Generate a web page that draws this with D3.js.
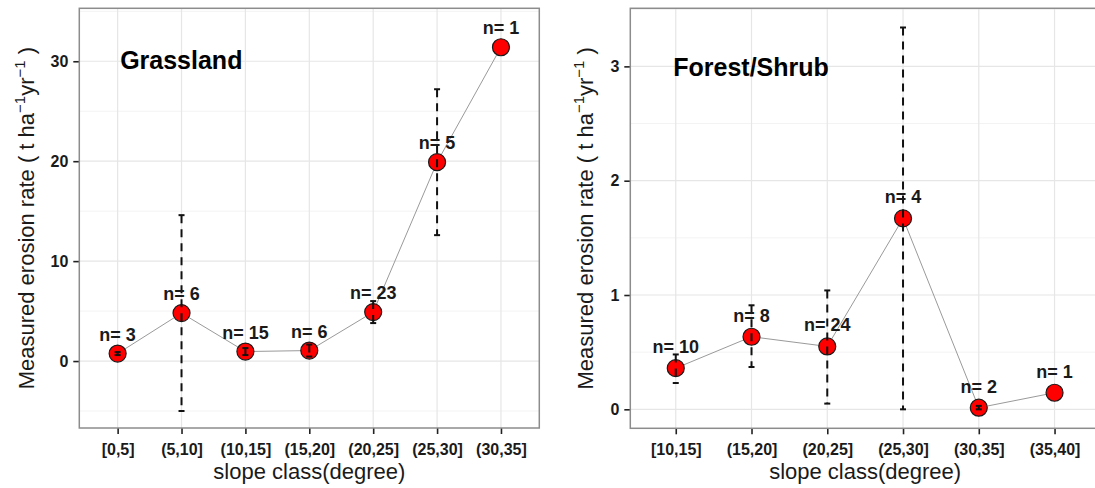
<!DOCTYPE html>
<html>
<head>
<meta charset="utf-8">
<script src="https://cdn.jsdelivr.net/npm/d3@7"></script>
<style>
  html, body { margin: 0; padding: 0; background: #fff; }
  svg { display: block; }
  text { font-family: "Liberation Sans", Arial, Helvetica, sans-serif; }
</style>
</head>
<body>
<svg id="chart" width="1095" height="488"></svg>
<script>
// ---------- data ----------
const grassCats  = ["[0,5]", "(5,10]", "(10,15]", "(15,20]", "(20,25]", "(25,30]", "(30,35]"];
const grassMean  = [0.75, 4.8, 0.95, 1.05, 4.9, 19.9, 31.4];
const grassLow   = [0.6, -5.0, 0.6, 0.45, 3.8, 12.6, null];
const grassHigh  = [0.9, 14.6, 1.3, 1.65, 6.0, 27.2, null];
const grassN     = [3, 6, 15, 6, 23, 5, 1];
const grassTicks = [0, 10, 20, 30];

const forestCats  = ["[10,15]", "(15,20]", "(20,25]", "(25,30]", "(30,35]", "(35,40]"];
const forestMean  = [0.36, 0.635, 0.55, 1.67, 0.014, 0.145];
const forestLow   = [0.23, 0.37, 0.05, 0.0, 0.0, null];
const forestHigh  = [0.48, 0.91, 1.04, 3.34, 0.03, null];
const forestN     = [10, 8, 24, 4, 2, 1];
const forestTicks = [0, 1, 2, 3];

const svg = d3.select("#chart");
svg.append("rect").attr("width", 1095).attr("height", 488).attr("fill", "#fff");

function drawPanel(cfg) {
  const g = svg.append("g");
  const x = d3.scalePoint().domain(cfg.cats).range([cfg.x0, cfg.x1]).padding(0.6);
  const y = d3.scaleLinear().domain(cfg.domain).range([cfg.y1, cfg.y0]);

  // minor grid
  g.selectAll(".minor").data(cfg.minor.filter(v => v > cfg.domain[0] && v < cfg.domain[1]))
    .enter().append("line")
    .attr("x1", cfg.x0).attr("x2", cfg.x1)
    .attr("y1", d => y(d)).attr("y2", d => y(d))
    .attr("stroke", "#f3f3f3").attr("stroke-width", 1);
  // major grid
  g.selectAll(".majorY").data(cfg.ticks).enter().append("line")
    .attr("x1", cfg.x0).attr("x2", cfg.x1)
    .attr("y1", d => y(d)).attr("y2", d => y(d))
    .attr("stroke", "#e6e6e6").attr("stroke-width", 1.2);
  g.selectAll(".majorX").data(cfg.cats).enter().append("line")
    .attr("x1", d => x(d)).attr("x2", d => x(d))
    .attr("y1", cfg.y0).attr("y2", cfg.y1)
    .attr("stroke", "#e6e6e6").attr("stroke-width", 1.2);

  // axes
  const yAxis = d3.axisLeft(y).tickValues(cfg.ticks).tickSize(6).tickPadding(5).tickFormat(d3.format("d"));
  const ya = g.append("g").attr("transform", `translate(${cfg.x0},0)`).call(yAxis);
  ya.select(".domain").remove();
  ya.selectAll(".tick line").attr("stroke", "#222").attr("stroke-width", 1.6);
  ya.selectAll(".tick text").attr("font-size", 16).attr("font-weight", "bold").attr("fill", "#1a1a1a")
    .style("font-family", '"Liberation Sans", Arial, sans-serif');

  const xAxis = d3.axisBottom(x).tickSize(6).tickPadding(6);
  const xa = g.append("g").attr("transform", `translate(0,${cfg.y1})`).call(xAxis);
  xa.select(".domain").remove();
  xa.selectAll(".tick line").attr("stroke", "#222").attr("stroke-width", 1.6);
  xa.selectAll(".tick text").attr("font-size", 16).attr("font-weight", "bold").attr("fill", "#1a1a1a")
    .attr("dy", "0.95em")
    .style("font-family", '"Liberation Sans", Arial, sans-serif');

  // panel border
  g.append("rect").attr("x", cfg.x0).attr("y", cfg.y0)
    .attr("width", cfg.x1 - cfg.x0).attr("height", cfg.y1 - cfg.y0)
    .attr("fill", "none").attr("stroke", "#8c8c8c").attr("stroke-width", 1.5);

  const idx = cfg.cats.map((c, i) => i);

  // connecting line
  const line = d3.line().x(i => x(cfg.cats[i])).y(i => y(cfg.mean[i]));
  g.append("path").datum(idx).attr("d", line)
    .attr("fill", "none").attr("stroke", "#9a9a9a").attr("stroke-width", 1);

  // points
  g.selectAll(".pt").data(idx).enter().append("circle")
    .attr("cx", i => x(cfg.cats[i])).attr("cy", i => y(cfg.mean[i]))
    .attr("r", 8.5).attr("fill", "#ff0000").attr("stroke", "#1a1a1a").attr("stroke-width", 1.2);

  // error bars
  const eb = idx.filter(i => cfg.low[i] !== null);
  const ebg = g.selectAll(".eb").data(eb).enter().append("g");
  ebg.append("line")
    .attr("x1", i => x(cfg.cats[i])).attr("x2", i => x(cfg.cats[i]))
    .attr("y1", i => y(cfg.high[i])).attr("y2", i => y(cfg.low[i]))
    .attr("stroke", "#111").attr("stroke-width", 2).attr("stroke-dasharray", "8,6");
  ebg.append("line")
    .attr("x1", i => x(cfg.cats[i]) - 3).attr("x2", i => x(cfg.cats[i]) + 3)
    .attr("y1", i => y(cfg.high[i])).attr("y2", i => y(cfg.high[i]))
    .attr("stroke", "#111").attr("stroke-width", 2);
  ebg.append("line")
    .attr("x1", i => x(cfg.cats[i]) - 3).attr("x2", i => x(cfg.cats[i]) + 3)
    .attr("y1", i => y(cfg.low[i])).attr("y2", i => y(cfg.low[i]))
    .attr("stroke", "#111").attr("stroke-width", 2);

  // n labels
  g.selectAll(".nl").data(idx).enter().append("text")
    .attr("x", i => x(cfg.cats[i])).attr("y", i => y(cfg.mean[i]) - cfg.labelOff)
    .attr("text-anchor", "middle").attr("font-size", 18).attr("font-weight", "bold")
    .attr("fill", "#1a1a1a")
    .text(i => "n= " + cfg.n[i]);

  // panel title
  g.append("text")
    .attr("x", x(cfg.cats[0]) + cfg.titleDx).attr("y", y(cfg.ticks[3]) + cfg.titleDy)
    .attr("font-size", 25).attr("font-weight", "bold").attr("fill", "#000")
    .text(cfg.title);

  // x axis title
  g.append("text")
    .attr("x", (cfg.x0 + cfg.x1) / 2).attr("y", cfg.y1 + 51)
    .attr("text-anchor", "middle").attr("font-size", 22).attr("fill", "#1a1a1a")
    .text("slope class(degree)");

  // y axis title
  const yt = g.append("text")
    .attr("transform", `translate(${cfg.yTitleX},${(cfg.y0 + cfg.y1) / 2}) rotate(-90)`)
    .attr("text-anchor", "middle").attr("font-size", 22).attr("fill", "#1a1a1a");
  yt.append("tspan").text("Measured erosion rate ( t ha");
  yt.append("tspan").attr("font-size", 15).attr("dy", -9).text("\u22121");
  yt.append("tspan").attr("dy", 9).text("yr");
  yt.append("tspan").attr("font-size", 15).attr("dy", -9).text("\u22121");
  yt.append("tspan").attr("dy", 9).text(" )");
}

drawPanel({
  cats: grassCats, mean: grassMean, low: grassLow, high: grassHigh, n: grassN,
  ticks: grassTicks, minor: [-5, 5, 15, 25, 35],
  x0: 79.3, x1: 539.3, y0: 8.3, y1: 428, domain: [-6.7, 35.3],
  labelOff: 13, title: "Grassland", titleDx: 2.5, titleDy: 8, yTitleX: 33.5
});
drawPanel({
  cats: forestCats, mean: forestMean, low: forestLow, high: forestHigh, n: forestN,
  ticks: forestTicks, minor: [0.5, 1.5, 2.5, 3.5],
  x0: 630.3, x1: 1100, y0: 8.3, y1: 428.3, domain: [-0.166, 3.508],
  labelOff: 15, title: "Forest/Shrub", titleDx: -2.5, titleDy: 10, yTitleX: 593
});
</script>
</body>
</html>
